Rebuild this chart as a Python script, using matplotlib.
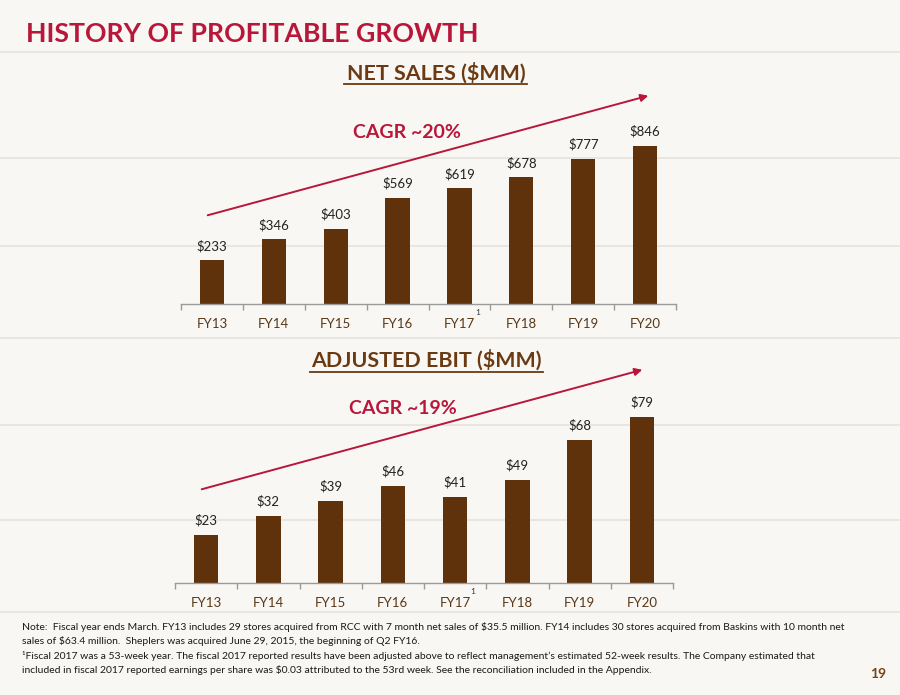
import matplotlib
matplotlib.use('Agg')
import matplotlib.pyplot as plt
from matplotlib.patches import FancyArrowPatch
from matplotlib.lines import Line2D

# data
years = ['FY13', 'FY14', 'FY15', 'FY16', 'FY17', 'FY18', 'FY19', 'FY20']
net_sales = [233, 346, 403, 569, 619, 678, 777, 846]
adj_ebit = [23, 32, 39, 46, 41, 49, 68, 79]

W, H = 900, 695
bar_col = '#5f320c'
red = '#b8173a'
brown_txt = '#6b3a12'
tick_txt = '#5a3818'

plt.rcParams['font.family'] = ['Lato', 'DejaVu Sans']

fig = plt.figure(figsize=(9, 6.95), dpi=100)
fig.patch.set_facecolor('#f8f7f4')

# faint plank lines of the background
for yy in [52, 158, 246, 338, 425, 520, 612]:
    fig.add_artist(Line2D([0, 1], [1 - yy / H] * 2, color='#e6e3de', lw=1.2, transform=fig.transFigure, zorder=0))

def px(x, y):
    return x / W, 1 - y / H

def bar_panel(rect, vals, ymax, fmt):
    ax = fig.add_axes(rect)
    ax.patch.set_alpha(0)
    xs = range(len(vals))
    ax.bar(xs, vals, width=0.39, color=bar_col, zorder=2)
    for x, v in zip(xs, vals):
        ax.annotate(fmt(v), (x, v), xytext=(0, 6), textcoords='offset points',
                    ha='center', va='bottom', fontsize=9.5, color='#222222')
    ax.set_xlim(-0.5, len(vals) - 0.5)
    ax.set_ylim(0, ymax)
    ax.set_xticks(list(xs))
    ax.set_xticklabels(years, fontsize=9.5, color=tick_txt)
    ax.tick_params(axis='x', which='major', length=0, pad=10)
    ax.set_xticks([i - 0.5 for i in range(len(vals) + 1)], minor=True)
    ax.tick_params(axis='x', which='minor', length=4, color='#9a9a9a', width=1)
    ax.set_yticks([])
    for s in ['top', 'right', 'left']:
        ax.spines[s].set_visible(False)
    ax.spines['bottom'].set_color('#9a9a9a')
    ax.spines['bottom'].set_linewidth(1)
    # footnote marker at FY17
    ax.annotate('1', (4, 0), xytext=(13, -6), textcoords='offset points',
                ha='center', va='center', fontsize=6, color='#333333')
    return ax

ax1 = bar_panel([181 / W, 1 - 304 / H, 495 / W, 184 / H], net_sales, 985, lambda v: f'${v}')
ax2 = bar_panel([175 / W, 1 - 583 / H, 498 / W, 183 / H], adj_ebit, 86.9, lambda v: f'${v}')

# titles
fig.text(*px(26, 41.5), 'HISTORY OF PROFITABLE GROWTH', fontsize=19.2, fontweight='bold',
         color=red, va='baseline', ha='left')
fig.text(*px(436, 80), 'NET SALES ($MM)', fontsize=15.4, fontweight='bold', color=brown_txt,
         ha='center', va='baseline')
fig.text(*px(426, 367), 'ADJUSTED EBIT ($MM)', fontsize=15.4, fontweight='bold', color=brown_txt,
         ha='center', va='baseline')
fig.text(*px(407, 133), 'CAGR ~20%', fontsize=14, fontweight='bold', color=red, ha='center', va='center')
fig.text(*px(403, 408), 'CAGR ~19%', fontsize=14, fontweight='bold', color=red, ha='center', va='center')

# underlines under the panel titles
fig.add_artist(Line2D([344 / W, 527 / W], [1 - 84 / H] * 2, color=brown_txt, lw=1.3, transform=fig.transFigure))
fig.add_artist(Line2D([310 / W, 543 / W], [1 - 372 / H] * 2, color=brown_txt, lw=1.3, transform=fig.transFigure))

# CAGR arrows
for (x0, y0), (x1, y1) in [((205, 216), (651, 95)), ((199, 490), (645, 369))]:
    arr = FancyArrowPatch(px(x0, y0), px(x1, y1), transform=fig.transFigure,
                          arrowstyle='-|>', mutation_scale=11, color=red, lw=1.4)
    fig.add_artist(arr)

notes = [
    'Note:  Fiscal year ends March. FY13 includes 29 stores acquired from RCC with 7 month net sales of $35.5 million. FY14 includes 30 stores acquired from Baskins with 10 month net',
    'sales of $63.4 million.  Sheplers was acquired June 29, 2015, the beginning of Q2 FY16.',
    '\u00b9Fiscal 2017 was a 53-week year. The fiscal 2017 reported results have been adjusted above to reflect management\u2019s estimated 52-week results. The Company estimated that',
    'included in fiscal 2017 reported earnings per share was $0.03 attributed to the 53rd week. See the reconciliation included in the Appendix.',
]
for i, line in enumerate(notes):
    fig.text(*px(22, 627 + i * 14.3), line, fontsize=7.5, color='#1a1a1a', ha='left', va='center')

fig.text(*px(878, 674), '19', fontsize=10, fontweight='bold', color='#7a4410', ha='center', va='center')

fig.savefig('out.png', dpi=100, facecolor=fig.get_facecolor())
